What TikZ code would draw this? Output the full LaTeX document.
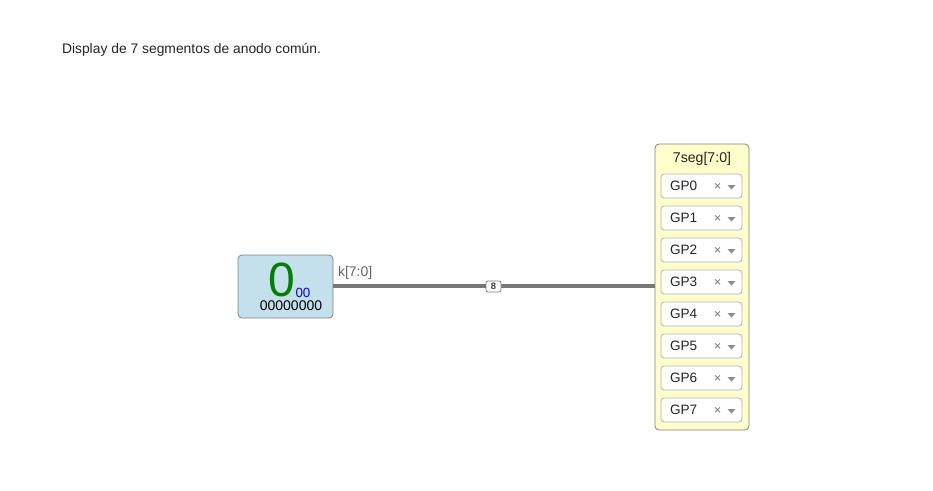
\documentclass[tikz,border=0pt]{standalone}
\usepackage{fontspec}
\setmainfont{Liberation Sans}
\begin{document}
\begin{tikzpicture}[x=0.75pt,y=-0.75pt,
  every node/.style={inner sep=0pt, outer sep=0pt},
  pinbox/.style={draw=black!30, fill=white, rounded corners=2.5pt, line width=0.6pt, minimum width=81*0.75pt, minimum height=24*0.75pt},
  pintext/.style={font=\fontsize{10.2}{11}\selectfont, text=black!85, anchor=west},
  wire/.style={draw=black!53, line width=3pt}
]
\path[use as bounding box, fill=white] (0,0) rectangle (933,490);
\node[anchor=west, font=\fontsize{10.4}{12}\selectfont, text=black!85] (title) at (62,50) {Display de 7 segmentos de anodo común.};

% left block
\node[draw=black!50, fill={rgb,255:red,195;green,224;blue,236}, rounded corners=3pt, line width=0.6pt, minimum width=95*0.75pt, minimum height=63*0.75pt, anchor=north west] (src) at (238,255) {};
\node[font=\fontsize{36}{37}\selectfont, text={rgb,255:red,0;green,128;blue,0}] (digit) at (281.5,280) {0};
\node[font=\fontsize{10}{11}\selectfont, text=blue, anchor=west] (sub) at (295.5,293) {00};
\node[font=\fontsize{10.5}{11}\selectfont, text=black] (val) at (291,305.5) {00000000};
\node[font=\fontsize{10.5}{12}\selectfont, text=black!60, anchor=west] (klabel) at (338,273) {k[7:0]};

% right block
\node[draw=black!50, fill={rgb,255:red,255;green,255;blue,204}, rounded corners=3pt, line width=0.6pt, minimum width=94*0.75pt, minimum height=286*0.75pt, anchor=north west] (dst) at (655,144) {};
\node[font=\fontsize{10.6}{12}\selectfont, text=black!85] (dtitle) at (702,159) {7seg[7:0]};

\foreach \i in {0,...,7}{
  \node[pinbox, anchor=north west] (gp\i) at (661,174+32*\i) {};
  \node[pintext] (gpt\i) at (670,186+32*\i) {GP\i};
  \node[font=\fontsize{9.5}{10}\selectfont, text=black!55] (gpx\i) at (717.5,186.5+32*\i) {×};
  \fill[black!45] (727.5,185+32*\i) -- (735.5,185+32*\i) -- (731.5,189.5+32*\i) -- cycle;
}

% wire
\coordinate (wout) at (333,286);
\coordinate (win) at (655,286);
\draw[wire] (src.east |- wout) -- (dst.west |- win);
\node[draw=black!50, fill=white, rounded corners=1.5pt, line width=0.6pt, minimum width=15*0.75pt, minimum height=11*0.75pt, font=\fontsize{7}{8}\selectfont\bfseries, text=black!75] (bus) at (493.5,286.5) {8};
\end{tikzpicture}
\end{document}
